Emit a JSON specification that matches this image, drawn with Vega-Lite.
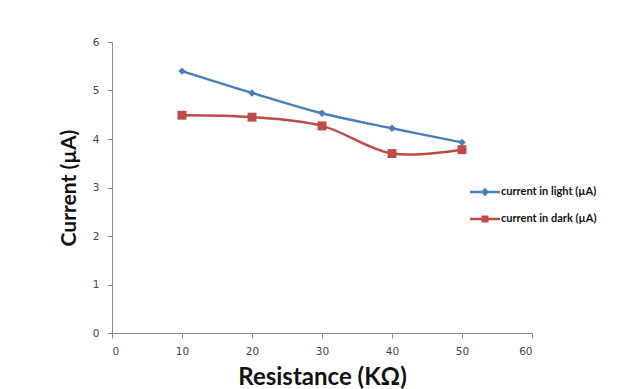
{
  "$schema": "https://vega.github.io/schema/vega-lite/v6.json",
  "width": 420,
  "height": 291,
  "autosize": {"type": "none"},
  "padding": {"left": 112, "top": 42, "right": 112, "bottom": 56},
  "background": "white",
  "config": {
    "view": {"stroke": null},
    "font": "Lato",
    "axis": {"grid": false, "domainColor": "#8c8c8c", "tickColor": "#8c8c8c", "labelColor": "#444444", "labelFont": "DejaVu Sans", "labelFontSize": 10.5, "labelFontWeight": "normal", "titleFont": "Lato", "titleFontWeight": "bold", "titleColor": "#111111", "tickSize": 5}
  },
  "data": {
    "values": [
      {"r": 10, "c": 5.40, "s": "current in light (µA)"},
      {"r": 20, "c": 4.95, "s": "current in light (µA)"},
      {"r": 30, "c": 4.53, "s": "current in light (µA)"},
      {"r": 40, "c": 4.22, "s": "current in light (µA)"},
      {"r": 50, "c": 3.93, "s": "current in light (µA)"},
      {"r": 10, "c": 4.49, "s": "current in dark (µA)"},
      {"r": 20, "c": 4.45, "s": "current in dark (µA)"},
      {"r": 30, "c": 4.27, "s": "current in dark (µA)"},
      {"r": 40, "c": 3.70, "s": "current in dark (µA)"},
      {"r": 50, "c": 3.78, "s": "current in dark (µA)"}
    ]
  },
  "encoding": {
    "x": {"field": "r", "type": "quantitative", "scale": {"domain": [0, 60], "nice": false}, "axis": {"values": [0, 10, 20, 30, 40, 50, 60], "title": "Resistance (KΩ)", "titleFontSize": 24, "labelPadding": 8, "titlePadding": 9}},
    "y": {"field": "c", "type": "quantitative", "scale": {"domain": [0, 6], "nice": false}, "axis": {"values": [0, 1, 2, 3, 4, 5, 6], "title": "Current (µA)", "titleFontSize": 21, "labelPadding": 8, "titlePadding": 13}},
    "color": {"field": "s", "type": "nominal", "sort": ["current in light (µA)", "current in dark (µA)"],
      "scale": {"domain": ["current in light (µA)", "current in dark (µA)"], "range": ["#4A7EBB", "#BE4B48"]},
      "legend": {"title": null, "orient": "none", "legendX": 364, "legendY": 141, "symbolSize": 225, "rowPadding": 10, "labelOffset": 7,
        "labelFont": "Lato", "labelFontWeight": "bold", "labelFontSize": 11, "labelColor": "#111111", "symbolStrokeWidth": 2.5,
        "encode": {"symbols": {"update": {
          "shape": {"signal": "datum.index === 0 ? 'M-2,0H2M0,-0.32L0.32,0L0,0.32L-0.32,0Z' : 'M-2,0H2M-0.3,-0.3H0.3V0.3H-0.3Z'"},
          "fill": {"signal": "datum.index === 0 ? '#4A7EBB' : '#BE4B48'"},
          "stroke": {"signal": "datum.index === 0 ? '#4A7EBB' : '#BE4B48'"},
          "strokeWidth": {"value": 2.5},
          "opacity": {"value": 1}
        }}}}
    }
  },
  "layer": [
    {"mark": {"type": "line", "interpolate": "catmull-rom", "strokeWidth": 2.5}},
    {"transform": [{"filter": "datum.s === 'current in light (µA)'"}],
     "mark": {"type": "point", "filled": true, "opacity": 1, "shape": "diamond", "size": 55}},
    {"transform": [{"filter": "datum.s === 'current in dark (µA)'"}],
     "mark": {"type": "point", "filled": true, "opacity": 1, "shape": "square", "size": 80}}
  ]
}
